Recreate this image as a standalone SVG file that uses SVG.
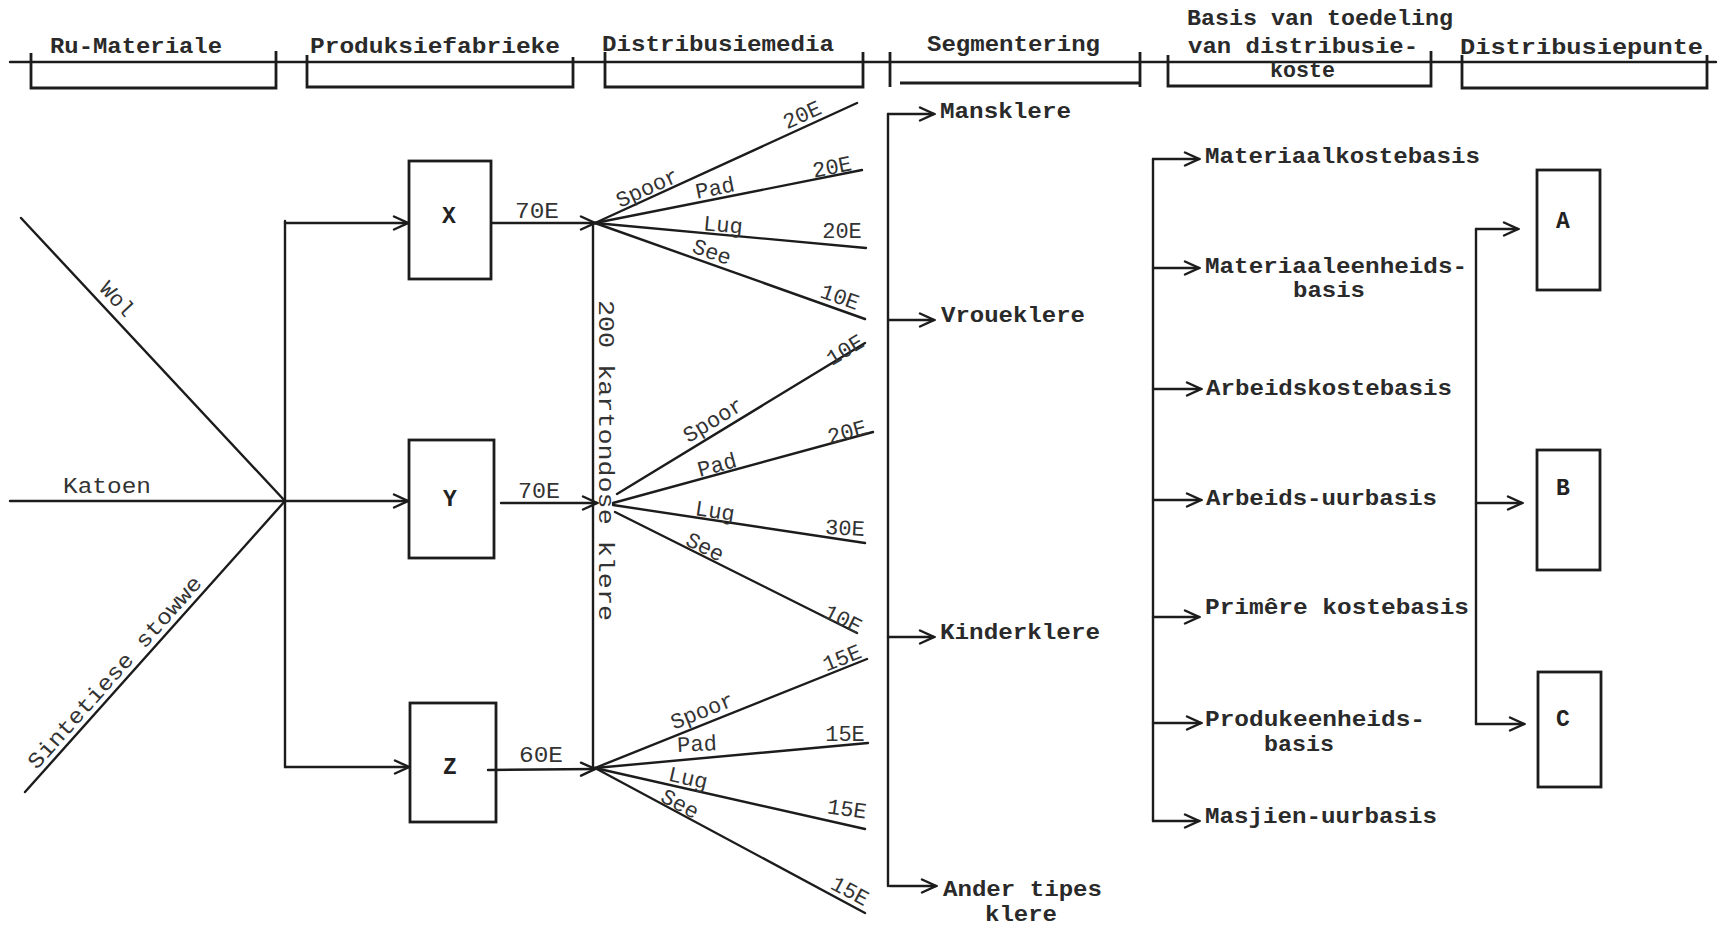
<svg xmlns="http://www.w3.org/2000/svg" width="1719" height="928" viewBox="0 0 1719 928">
<style>
.ln{fill:none;stroke:#1c1c1c;stroke-width:2.4;stroke-linecap:round}
.bx{fill:none;stroke:#1c1c1c;stroke-width:2.8}
.hd{font-family:"Liberation Mono","DejaVu Sans Mono",monospace;font-weight:bold;font-size:22px;fill:#2a2a2a}
.lb{font-family:"Liberation Mono","DejaVu Sans Mono",monospace;font-weight:bold;font-size:22px;fill:#2a2a2a}
.tw{font-family:"Liberation Mono","DejaVu Sans Mono",monospace;font-size:22px;fill:#333}
.nd{font-family:"Liberation Mono","DejaVu Sans Mono",monospace;font-weight:bold;font-size:23px;fill:#222;text-anchor:middle}
.rl{font-family:"Liberation Mono","DejaVu Sans Mono",monospace;font-size:22px;fill:#333;text-anchor:middle}
</style>
<defs>
<marker id="arr" markerUnits="userSpaceOnUse" markerWidth="18" markerHeight="16" refX="16" refY="8" orient="auto">
<path d="M2,1.5 L16,8 L2,14.5" fill="none" stroke="#1c1c1c" stroke-width="2.4" stroke-linecap="round"/>
</marker>
</defs>
<rect width="1719" height="928" fill="#ffffff"/>

<!-- header band -->
<g id="headers">
<line class="ln" x1="10" y1="62" x2="1716" y2="62" stroke-width="2.8"/>
<g id="hdr-ru"><path class="bx" d="M31,53 V88 H276 V51"/><text class="hd" x="50" y="53" textLength="172" lengthAdjust="spacingAndGlyphs">Ru-Materiale</text></g>
<g id="hdr-prod"><path class="bx" d="M307,55 V87 H573 V57"/><text class="hd" x="310" y="53" textLength="250" lengthAdjust="spacingAndGlyphs">Produksiefabrieke</text></g>
<g id="hdr-dist"><path class="bx" d="M605,52 V87 H863 V52"/><text class="hd" x="602" y="51" textLength="232" lengthAdjust="spacingAndGlyphs">Distribusiemedia</text></g>
<g id="hdr-seg"><path class="bx" d="M890,52 V87"/><path class="bx" d="M900,83 H1140 M1140,52 V87"/><text class="hd" x="927" y="51" textLength="173" lengthAdjust="spacingAndGlyphs">Segmentering</text></g>
<g id="hdr-basis"><path class="bx" d="M1168,55 V86 H1431 V51"/>
<text class="hd" x="1187" y="25" textLength="266" lengthAdjust="spacingAndGlyphs">Basis van toedeling</text>
<text class="hd" x="1188" y="53" textLength="230" lengthAdjust="spacingAndGlyphs">van distribusie-</text>
<text class="hd" x="1270" y="77" textLength="65" lengthAdjust="spacingAndGlyphs">koste</text></g>
<g id="hdr-punte"><path class="bx" d="M1462,55 V88 H1707 V55"/><text class="hd" x="1460" y="54" textLength="243" lengthAdjust="spacingAndGlyphs">Distribusiepunte</text></g>
</g>

<!-- connectors -->
<g id="connectors">
<!-- raw materials -->
<line class="ln" x1="21" y1="218" x2="285" y2="501"/>
<line class="ln" x1="10" y1="501" x2="285" y2="501"/>
<line class="ln" x1="25" y1="792" x2="285" y2="501"/>
<!-- bus to factories -->
<line class="ln" x1="285" y1="221" x2="285" y2="767"/>
<line class="ln" x1="285" y1="223" x2="408" y2="223" marker-end="url(#arr)"/>
<line class="ln" x1="285" y1="501" x2="408" y2="501" marker-end="url(#arr)"/>
<line class="ln" x1="285" y1="767" x2="409" y2="767" marker-end="url(#arr)"/>
<!-- factories to distribution media -->
<line class="ln" x1="492" y1="223" x2="595" y2="223" marker-end="url(#arr)"/>
<line class="ln" x1="501" y1="503" x2="597" y2="503" marker-end="url(#arr)"/>
<line class="ln" x1="488" y1="770" x2="595" y2="769" marker-end="url(#arr)"/>
<line class="ln" x1="593" y1="223" x2="593" y2="769"/>
<!-- fan 1 -->
<line class="ln" x1="595" y1="223" x2="857" y2="103"/>
<line class="ln" x1="595" y1="223" x2="862" y2="170"/>
<line class="ln" x1="595" y1="223" x2="866" y2="248"/>
<line class="ln" x1="595" y1="223" x2="865" y2="319"/>
<!-- fan 2 -->
<line class="ln" x1="617" y1="494" x2="865" y2="343"/>
<line class="ln" x1="613" y1="503" x2="873" y2="432"/>
<line class="ln" x1="613" y1="505" x2="865" y2="543"/>
<line class="ln" x1="615" y1="512" x2="857" y2="633"/>
<!-- fan 3 -->
<line class="ln" x1="595" y1="768" x2="867" y2="659"/>
<line class="ln" x1="595" y1="768" x2="868" y2="743"/>
<line class="ln" x1="595" y1="768" x2="865" y2="829"/>
<line class="ln" x1="595" y1="768" x2="865" y2="913"/>
<!-- segmentation bus -->
<line class="ln" x1="888" y1="114" x2="888" y2="886"/>
<line class="ln" x1="888" y1="114" x2="934" y2="114" marker-end="url(#arr)"/>
<line class="ln" x1="888" y1="320" x2="934" y2="320" marker-end="url(#arr)"/>
<line class="ln" x1="888" y1="637" x2="934" y2="637" marker-end="url(#arr)"/>
<line class="ln" x1="890" y1="886" x2="936" y2="886" marker-end="url(#arr)"/>
<!-- allocation basis bus -->
<line class="ln" x1="1153" y1="159" x2="1153" y2="821"/>
<line class="ln" x1="1153" y1="159" x2="1199" y2="159" marker-end="url(#arr)"/>
<line class="ln" x1="1153" y1="268" x2="1199" y2="268" marker-end="url(#arr)"/>
<line class="ln" x1="1153" y1="389" x2="1201" y2="389" marker-end="url(#arr)"/>
<line class="ln" x1="1153" y1="500" x2="1201" y2="500" marker-end="url(#arr)"/>
<line class="ln" x1="1153" y1="617" x2="1199" y2="617" marker-end="url(#arr)"/>
<line class="ln" x1="1153" y1="723" x2="1201" y2="723" marker-end="url(#arr)"/>
<line class="ln" x1="1153" y1="821" x2="1199" y2="821" marker-end="url(#arr)"/>
<!-- distribution points bus -->
<line class="ln" x1="1476" y1="229" x2="1476" y2="724"/>
<line class="ln" x1="1476" y1="229" x2="1518" y2="229" marker-end="url(#arr)"/>
<line class="ln" x1="1476" y1="503" x2="1522" y2="503" marker-end="url(#arr)"/>
<line class="ln" x1="1476" y1="724" x2="1524" y2="724" marker-end="url(#arr)"/>
</g>

<!-- raw material labels -->
<g id="raw-labels">
<text class="rl" x="112" y="304" transform="rotate(46.9 112 304)">Wol</text>
<text class="tw" x="63" y="493" textLength="88" lengthAdjust="spacingAndGlyphs">Katoen</text>
<text class="rl" x="120" y="677" transform="rotate(-48.3 120 677)" textLength="250" lengthAdjust="spacingAndGlyphs">Sintetiese stowwe</text>
</g>

<!-- factories -->
<g id="node-X"><rect class="bx" x="409" y="161" width="82" height="118"/><text class="nd" x="449" y="223">X</text></g>
<g id="node-Y"><rect class="bx" x="409" y="440" width="85" height="118"/><text class="nd" x="450" y="506">Y</text></g>
<g id="node-Z"><rect class="bx" x="410" y="703" width="86" height="119"/><text class="nd" x="450" y="774">Z</text></g>

<g id="flow-labels">
<text class="tw" x="515" y="218" textLength="44" lengthAdjust="spacingAndGlyphs">70E</text>
<text class="tw" x="518" y="498" textLength="42" lengthAdjust="spacingAndGlyphs">70E</text>
<text class="tw" x="519" y="762" textLength="44" lengthAdjust="spacingAndGlyphs">60E</text>
<text class="tw" transform="translate(599,300) rotate(90)" x="0" y="0" textLength="321" lengthAdjust="spacingAndGlyphs">200 kartondose klere</text>
</g>

<!-- media labels fan 1 -->
<g id="media-1">
<text class="rl" x="647" y="188" dy="7" transform="rotate(-24.6 647 188)">Spoor</text>
<text class="rl" x="802" y="115" dy="7" transform="rotate(-24.6 802 115)">20E</text>
<text class="rl" x="715" y="188" dy="7" transform="rotate(-11.2 715 188)">Pad</text>
<text class="rl" x="832" y="167" dy="7" transform="rotate(-11.2 832 167)">20E</text>
<text class="rl" x="723" y="225" dy="7" transform="rotate(5.3 723 225)">Lug</text>
<text class="rl" x="842" y="231" dy="7">20E</text>
<text class="rl" x="712" y="252" dy="7" transform="rotate(19.6 712 252)">See</text>
<text class="rl" x="840" y="297" dy="7" transform="rotate(19.6 840 297)">10E</text>
</g>
<g id="media-2">
<text class="rl" x="713" y="420" dy="7" transform="rotate(-31.3 713 420)">Spoor</text>
<text class="rl" x="845" y="350" dy="7" transform="rotate(-31.3 845 350)">10E</text>
<text class="rl" x="717" y="465" dy="7" transform="rotate(-15.3 717 465)">Pad</text>
<text class="rl" x="847" y="432" dy="7" transform="rotate(-15.3 847 432)">20E</text>
<text class="rl" x="715" y="511" dy="7" transform="rotate(8.6 715 511)">Lug</text>
<text class="rl" x="845" y="528" dy="7" transform="rotate(3 845 528)">30E</text>
<text class="rl" x="705" y="547" dy="7" transform="rotate(26.4 705 547)">See</text>
<text class="rl" x="843" y="619" dy="7" transform="rotate(26.4 843 619)">10E</text>
</g>
<g id="media-3">
<text class="rl" x="702" y="711" dy="7" transform="rotate(-21.8 702 711)">Spoor</text>
<text class="rl" x="842" y="658" dy="7" transform="rotate(-21.8 842 658)">15E</text>
<text class="rl" x="697" y="744" dy="7" transform="rotate(-3 697 744)">Pad</text>
<text class="rl" x="845" y="734" dy="7">15E</text>
<text class="rl" x="688" y="778" dy="7" transform="rotate(12.7 688 778)">Lug</text>
<text class="rl" x="847" y="809" dy="7" transform="rotate(8 847 809)">15E</text>
<text class="rl" x="680" y="804" dy="7" transform="rotate(28.2 680 804)">See</text>
<text class="rl" x="850" y="891" dy="7" transform="rotate(28 850 891)">15E</text>
</g>

<!-- segmentation -->
<g id="seg-mans"><text class="lb" x="940" y="118" textLength="131" lengthAdjust="spacingAndGlyphs">Mansklere</text></g>
<g id="seg-vroue"><text class="lb" x="941" y="322" textLength="144" lengthAdjust="spacingAndGlyphs">Vroueklere</text></g>
<g id="seg-kinder"><text class="lb" x="940" y="639" textLength="160" lengthAdjust="spacingAndGlyphs">Kinderklere</text></g>
<g id="seg-ander"><text class="lb" x="943" y="896" textLength="159" lengthAdjust="spacingAndGlyphs">Ander tipes</text><text class="lb" x="985" y="921" textLength="72" lengthAdjust="spacingAndGlyphs">klere</text></g>

<!-- allocation bases -->
<g id="basis-1"><text class="lb" x="1205" y="163" textLength="275" lengthAdjust="spacingAndGlyphs">Materiaalkostebasis</text></g>
<g id="basis-2"><text class="lb" x="1205" y="273" textLength="262" lengthAdjust="spacingAndGlyphs">Materiaaleenheids-</text><text class="lb" x="1293" y="297" textLength="72" lengthAdjust="spacingAndGlyphs">basis</text></g>
<g id="basis-3"><text class="lb" x="1206" y="395" textLength="246" lengthAdjust="spacingAndGlyphs">Arbeidskostebasis</text></g>
<g id="basis-4"><text class="lb" x="1206" y="505" textLength="231" lengthAdjust="spacingAndGlyphs">Arbeids-uurbasis</text></g>
<g id="basis-5"><text class="lb" x="1205" y="614" textLength="264" lengthAdjust="spacingAndGlyphs">Primêre kostebasis</text></g>
<g id="basis-6"><text class="lb" x="1205" y="726" textLength="220" lengthAdjust="spacingAndGlyphs">Produkeenheids-</text><text class="lb" x="1264" y="751" textLength="70" lengthAdjust="spacingAndGlyphs">basis</text></g>
<g id="basis-7"><text class="lb" x="1205" y="823" textLength="232" lengthAdjust="spacingAndGlyphs">Masjien-uurbasis</text></g>

<!-- distribution points -->
<g id="node-A"><rect class="bx" x="1537" y="170" width="63" height="120"/><text class="nd" x="1563" y="228">A</text></g>
<g id="node-B"><rect class="bx" x="1537" y="450" width="63" height="120"/><text class="nd" x="1563" y="495">B</text></g>
<g id="node-C"><rect class="bx" x="1538" y="672" width="63" height="115"/><text class="nd" x="1563" y="726">C</text></g>
</svg>
